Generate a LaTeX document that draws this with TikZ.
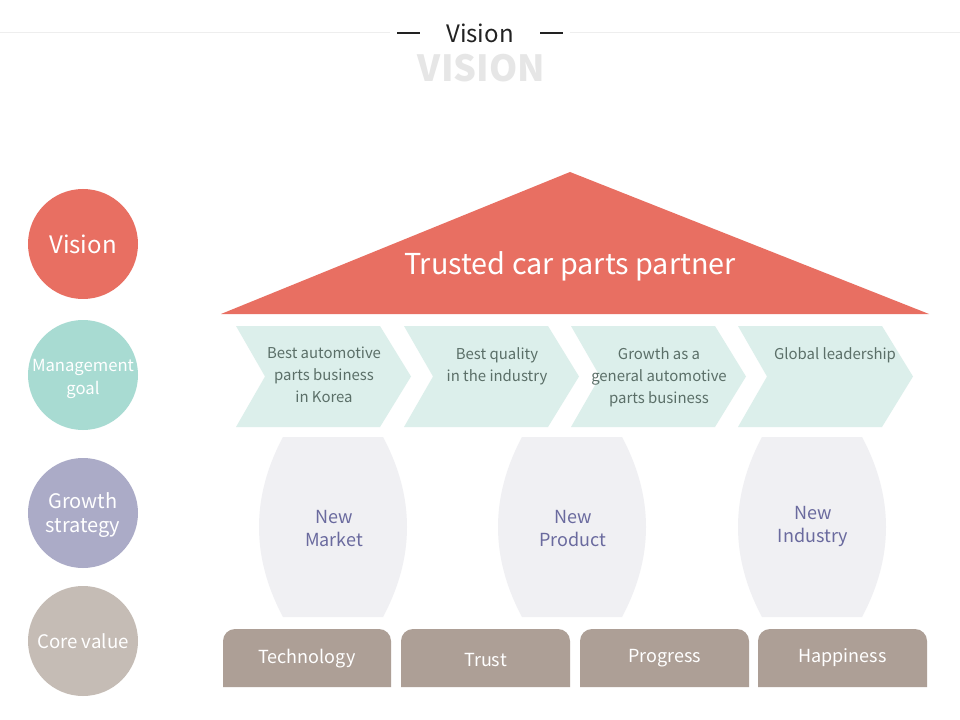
\documentclass[tikz,border=0pt]{standalone}
\usepackage{fontspec}
\setmainfont{Noto Sans CJK KR}
\definecolor{vred}{HTML}{E86F62}
\definecolor{vmint}{HTML}{A8DBD2}
\definecolor{vchev}{HTML}{DCEFEB}
\definecolor{vchevtxt}{HTML}{5B6F68}
\definecolor{vgrowth}{HTML}{ABABC7}
\definecolor{vbarrel}{HTML}{F0F0F3}
\definecolor{vbarreltxt}{HTML}{6A6A9E}
\definecolor{vcore}{HTML}{C5BCB5}
\definecolor{vbox}{HTML}{AD9F96}
\definecolor{vtitle}{HTML}{222222}
\definecolor{vbig}{HTML}{E6E6E6}
\definecolor{vline}{HTML}{EEEEEE}
\tikzset{
  circ/.style={circle, minimum size=82.5pt, inner sep=0pt, text=white, align=center},
  chevtxt/.style={text=vchevtxt, align=center, font=\fontsize{11.2pt}{16.5pt}\selectfont, anchor=north, inner sep=0pt},
  bartxt/.style={text=vbarreltxt, align=center, font=\fontsize{13.5pt}{17pt}\selectfont, inner sep=0pt},
  boxtxt/.style={text=white, font=\fontsize{13.5pt}{16pt}\selectfont, inner sep=0pt},
}
\begin{document}
\begin{tikzpicture}[x=0.75pt,y=-0.75pt]
\useasboundingbox (0,0) rectangle (960,720);
\fill[white] (0,0) rectangle (960,720);
% header
\draw[vline, line width=0.75pt] (0,33) -- (960,33);
\fill[white] (390,25) rectangle (570,41);
\draw[vtitle, line width=0.9pt] (397,33) -- (420,33);
\draw[vtitle, line width=0.9pt] (540,33) -- (563,33);
\node[text=vtitle, font=\fontsize{18pt}{20pt}\selectfont] (title) at (480,33) {Vision};
\node[text=vbig, font=\fontsize{27pt}{30pt}\selectfont\bfseries] (bigtitle) at (481.5,68) {VISION};
% left circles
\node[circ, fill=vred, font=\fontsize{18pt}{20pt}\selectfont] (cvision) at (83,244) {Vision};
\node[circ, fill=vmint] (cgoal) at (83,375) {};
\node[text=white, align=center, font=\fontsize{12.5pt}{17pt}\selectfont] (tgoal) at (83,379) {Management\\goal};
\node[circ, fill=vgrowth] (cgrowth) at (83,513) {};
\node[text=white, align=center, font=\fontsize{15pt}{17.5pt}\selectfont] (tgrowth) at (83,515) {Growth\\strategy};
\node[circ, fill=vcore, font=\fontsize{14pt}{16pt}\selectfont] (ccore) at (83,641) {Core value};
% roof
\fill[vred] (570,172) -- (929,314) -- (221,314) -- cycle;
\node[text=white, font=\fontsize{21.6pt}{24pt}\selectfont] (roof) at (570,266) {Trusted car parts partner};
% chevrons
\foreach \x in {236,404,571,738}{
  \fill[vchev] (\x,326) -- (\x+144,326) -- (\x+175,376.5) -- (\x+144,427) -- (\x,427) -- (\x+29,376.5) -- cycle;
}
\node[chevtxt] (g1) at (324,347) {Best automotive\\parts business\\in Korea};
\node[chevtxt] (g2) at (497,347) {Best quality\\in the industry};
\node[chevtxt] (g3) at (659,347) {Growth as a\\general automotive\\parts business};
\node[chevtxt] (g4) at (835,347) {Global leadership};
% barrels
\foreach \c in {334,573,813}{
  \fill[vbarrel] (\c-51,437) -- (\c+49,437) .. controls (\c+81,497) and (\c+81,557) .. (\c+49,617)
     -- (\c-51,617) .. controls (\c-83,557) and (\c-83,497) .. (\c-51,437) -- cycle;
}
\node[bartxt] (s1) at (334,528.5) {New\\Market};
\node[bartxt] (s2) at (573,528.5) {New\\Product};
\node[bartxt] (s3) at (813,526.5) {New\\Industry};
% core value boxes
\foreach \a/\b in {223/391,401/570,580/749,758/927}{
  \fill[vbox] (\a,687) [rounded corners=9pt] -- (\a,629) -- (\b,629) [sharp corners] -- (\b,687) -- cycle;
}
\node[boxtxt] (v1) at (307,659) {Technology};
\node[boxtxt] (v2) at (485.5,660) {Trust};
\node[boxtxt] (v3) at (664.5,658) {Progress};
\node[boxtxt] (v4) at (842.5,658) {Happiness};
\end{tikzpicture}
\end{document}
